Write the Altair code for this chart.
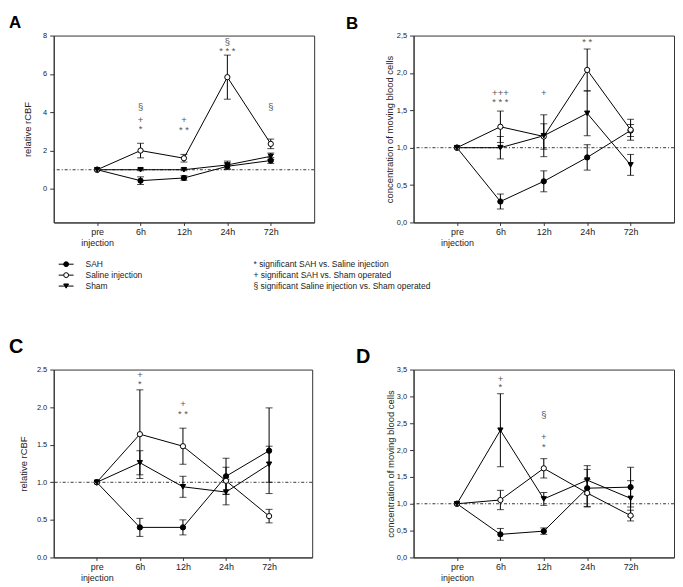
import altair as alt
import pandas as pd

times = ["pre\ninjection", "6h", "12h", "24h", "72h"]
series = ["SAH", "Saline injection", "Sham"]
shapes = ["circle", "circle", "triangle-down"]
fills = ["black", "white", "black"]
notes = ["* significant SAH vs. Saline injection",
         "+ significant SAH vs. Sham operated",
         "§ significant Saline injection vs. Sham operated"]

# Panel A: relative rCBF
a_sah = [1, 0.43, 0.57, 1.18, 1.48]
a_sah_err = [0, 0.2, 0.12, 0.17, 0.15]
a_sal = [1, 2.0, 1.6, 5.83, 2.35]
a_sal_err = [0, 0.38, 0.2, 1.15, 0.25]
a_sham = [1, 1.0, 1.0, 1.25, 1.7]
a_sham_err = [0, 0.05, 0.05, 0.2, 0.17]
a_ann_time = ["6h", "6h", "6h", "12h", "12h", "24h", "24h", "72h"]
a_ann_y = [4.26, 3.57, 3.13, 3.57, 3.05, 7.65, 7.2, 4.26]
a_ann_txt = ["§", "+", "*", "+", "* *", "§", "* * *", "§"]

# Panel B: concentration of moving blood cells
b_sah = [1, 0.28, 0.55, 0.87, 1.23]
b_sah_err = [0, 0.1, 0.14, 0.17, 0.08]
b_sal = [1, 1.28, 1.15, 2.04, 1.24]
b_sal_err = [0, 0.21, 0.17, 0.28, 0.14]
b_sham = [1, 1.0, 1.16, 1.46, 0.77]
b_sham_err = [0, 0.15, 0.28, 0.3, 0.14]
b_ann_time = ["6h", "6h", "12h", "24h"]
b_ann_y = [1.73, 1.61, 1.73, 2.42]
b_ann_txt = ["+++", "* * *", "+", "* *"]

# Panel C: relative rCBF
c_sah = [1, 0.40, 0.40, 1.08, 1.42]
c_sah_err = [0, 0.12, 0.1, 0.24, 0.57]
c_sal = [1, 1.64, 1.48, 1.02, 0.55]
c_sal_err = [0, 0.59, 0.24, 0.18, 0.09]
c_sham = [1, 1.26, 0.94, 0.87, 1.24]
c_sham_err = [0, 0.16, 0.14, 0.17, 0.24]
c_ann_time = ["6h", "6h", "12h", "12h"]
c_ann_y = [2.43, 2.31, 2.04, 1.91]
c_ann_txt = ["+", "*", "+", "* *"]

# Panel D: concentration of moving blood cells
d_sah = [1, 0.43, 0.49, 1.29, 1.31]
d_sah_err = [0, 0.11, 0.06, 0.35, 0.37]
d_sal = [1, 1.07, 1.66, 1.2, 0.78]
d_sal_err = [0, 0.18, 0.18, 0.25, 0.1]
d_sham = [1, 2.37, 1.09, 1.44, 1.1]
d_sham_err = [0, 0.68, 0.12, 0.27, 0.33]
d_ann_time = ["6h", "6h", "12h", "12h", "12h"]
d_ann_y = [3.33, 3.17, 2.66, 2.25, 2.06]
d_ann_txt = ["+", "*", "§", "+", "*"]

FONT = "Liberation Sans"
shape_scale = alt.Scale(domain=series, range=shapes)
fill_scale = alt.Scale(domain=series, range=fills)


def panel(letter, data, ann, ydom, yvals, ytitle, fmt, w, h, lpos, lsize,
          tpad, anchor=False):
    rows = []
    for s, (vals, errs) in zip(series, data):
        for t, v, e in zip(times, vals, errs):
            rows.append(dict(time=t, series=s, value=v, err=e,
                             lo=v - e, hi=v + e))
    df = pd.DataFrame(rows)
    adf = pd.DataFrame({"time": ann[0], "y": ann[1], "txt": ann[2]})

    x = alt.X("time:N", sort=times,
              scale=alt.Scale(type="point", padding=1, domain=times),
              axis=alt.Axis(title=None, labelAngle=0,
                            labelExpr="split(datum.label, '\\n')",
                            tickSize=3, labelPadding=2, labelFontSize=9,
                            labelLineHeight=11))
    ysc = alt.Scale(domain=ydom, nice=False, zero=False)
    akw = dict(title=ytitle, values=yvals, tickSize=4, labelPadding=3,
               titlePadding=tpad, titleFontSize=9.5,
               titleFontWeight="normal", labelFontSize=7.5)
    if fmt == "comma":
        akw["labelExpr"] = "replace(format(datum.value, '.1f'), '.', ',')"
    elif fmt == "dot":
        akw["labelExpr"] = "format(datum.value, '.1f')"
    yax = alt.Axis(**akw)

    def Y(f):
        return alt.Y(f, scale=ysc, axis=yax)

    base = alt.Chart(df)
    lines = base.mark_line(color="black", strokeWidth=1).encode(
        x=x, y=Y("value:Q"), detail="series:N")
    ref = alt.Chart(pd.DataFrame({"r": [1.0]})).mark_rule(
        color="#333", strokeWidth=1, strokeDash=[3, 2, 1, 2]).encode(
        y=Y("r:Q"))
    eb = base.transform_filter("datum.err > 0")
    bars = eb.mark_rule(color="black", strokeWidth=1).encode(
        x=x, y=Y("lo:Q"), y2="hi:Q")
    cap_lo = eb.mark_tick(color="black", size=7, thickness=1).encode(
        x=x, y=Y("lo:Q"))
    cap_hi = eb.mark_tick(color="black", size=7, thickness=1).encode(
        x=x, y=Y("hi:Q"))
    pts = base.mark_point(filled=True, size=28, stroke="black",
                          strokeWidth=1, opacity=1).encode(
        x=x, y=Y("value:Q"),
        shape=alt.Shape("series:N", scale=shape_scale, legend=None),
        fill=alt.Fill("series:N", scale=fill_scale, legend=None))
    anns = alt.Chart(adf).mark_text(fontSize=9.5, color="#555",
                                    baseline="middle", font=FONT).encode(
        x=x, y=Y("y:Q"), text="txt:N")
    lett = alt.Chart(pd.DataFrame({"l": [letter]})).mark_text(
        font=FONT, fontWeight="bold", fontSize=lsize, align="left",
        baseline="top", color="black").encode(
        text="l:N", x=alt.value(lpos[0]), y=alt.value(lpos[1]))
    layers = [ref, lines, bars, cap_lo, cap_hi, pts, anns, lett]
    if anchor:
        anc = alt.Chart(pd.DataFrame({"a": [0]})).mark_rule(
            color="white", opacity=0).encode(
            x=alt.value(-45), x2=alt.value(-45),
            y=alt.value(-25), y2=alt.value(-25))
        layers.append(anc)
    return alt.layer(*layers).properties(width=w, height=h)


pA = panel("A", [(a_sah, a_sah_err), (a_sal, a_sal_err), (a_sham, a_sham_err)],
           (a_ann_time, a_ann_y, a_ann_txt), [-1.75, 8], [0, 2, 4, 6, 8],
           "relative rCBF", None, 262, 188, (-45, -21), 17, 10, anchor=True)
pB = panel("B", [(b_sah, b_sah_err), (b_sal, b_sal_err), (b_sham, b_sham_err)],
           (b_ann_time, b_ann_y, b_ann_txt), [0, 2.5],
           [0, 0.5, 1.0, 1.5, 2.0, 2.5],
           "concentration of moving blood cells", "comma", 262, 188,
           (-68, -20), 17, 2)
pC = panel("C", [(c_sah, c_sah_err), (c_sal, c_sal_err), (c_sham, c_sham_err)],
           (c_ann_time, c_ann_y, c_ann_txt), [0, 2.5],
           [0, 0.5, 1.0, 1.5, 2.0, 2.5],
           "relative rCBF", "dot", 260, 189, (-45, -33), 20, 8)
pD = panel("D", [(d_sah, d_sah_err), (d_sal, d_sal_err), (d_sham, d_sham_err)],
           (d_ann_time, d_ann_y, d_ann_txt), [0, 3.5],
           [0, 0.5, 1.0, 1.5, 2.0, 2.5, 3.0, 3.5],
           "concentration of moving blood cells", "comma", 262, 189,
           (-58, -23), 20, 1)

# Legend rows
ldf = pd.DataFrame({"series": series, "note": notes,
                    "row": list(range(len(series)))})
ly = alt.Y("row:Q", scale=alt.Scale(domain=[0, 2], range=[42, 64],
                                     nice=False, zero=False), axis=None)
lbase = alt.Chart(ldf)
leg_line = lbase.mark_rule(color="black", strokeWidth=1).encode(
    x=alt.value(5), x2=alt.value(20), y=ly)
leg_pt = lbase.mark_point(filled=True, size=24, stroke="black",
                          strokeWidth=1, opacity=1).encode(
    x=alt.value(12.5), y=ly,
    shape=alt.Shape("series:N", scale=shape_scale, legend=None),
    fill=alt.Fill("series:N", scale=fill_scale, legend=None))
leg_txt = lbase.mark_text(align="left", baseline="middle", fontSize=8.5,
                          font="Liberation Sans Narrow, " + FONT,
                          color="#222").encode(
    x=alt.value(32), y=ly, text="series:N")
legL = alt.layer(leg_line, leg_pt, leg_txt).properties(
    width=262, height=148, view=alt.ViewBackground(stroke="transparent"))
legR = lbase.mark_text(align="left", baseline="middle", fontSize=8.5,
                       font="Liberation Sans Narrow, " + FONT,
                       color="#222").encode(
    x=alt.value(-161), y=ly, text="note:N").properties(
    width=262, height=148, view=alt.ViewBackground(stroke="transparent"))

chart = alt.concat(pA, pB, legL, legR, pC, pD, columns=2,
                   spacing={"row": 0, "column": 100}, bounds="flush").resolve_scale(
    x="independent", y="independent").properties(padding=0).configure_axis(
    labelFont=FONT, titleFont=FONT, labelColor="#222", titleColor="#222",
    domainColor="#333", tickColor="#333", grid=False).configure_view(
    stroke="#333", strokeWidth=1)

chart.save("out.html", embed_options={"renderer": "svg", "actions": False})
